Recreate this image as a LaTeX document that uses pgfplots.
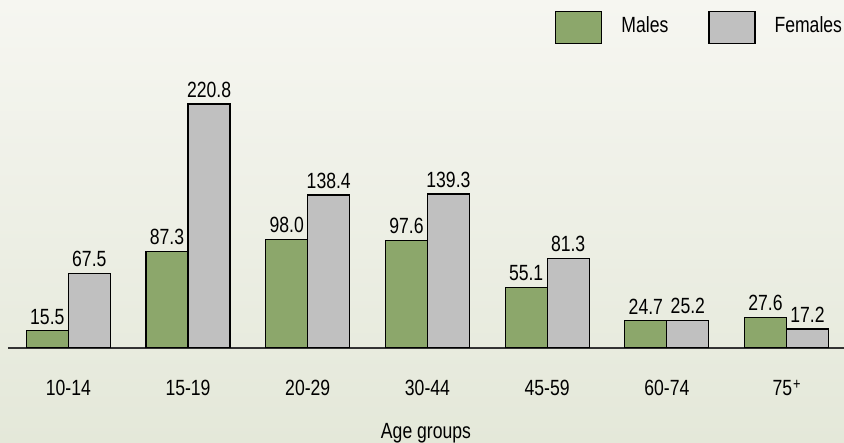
\documentclass[border=0pt]{standalone}
\usepackage{fontspec}
\setmainfont{Liberation Sans}[FakeStretch=0.8]
\usepackage{pgfplots}
\pgfplotsset{compat=1.18}
\definecolor{malegreen}{HTML}{8CA76B}
\definecolor{femgrey}{HTML}{C0C0C0}
\definecolor{bgtop}{HTML}{F6F6F1}
\definecolor{bgbot}{HTML}{E4E8D9}
\begin{document}
\begin{tikzpicture}
\fontsize{22}{26}\selectfont
\shade[top color=bgtop, bottom color=bgbot, use as bounding box] (0,0) rectangle (844pt,443pt);
\begin{axis}[
  at={(8pt,95pt)}, anchor=south west,
  scale only axis, width=836pt, height=265.2pt,
  font=\fontsize{22}{26}\selectfont,
  /pgf/number format/assume math mode=true,
  ybar=0pt, bar width=42pt,
  xmin=-0.504, xmax=6.48, ymin=0, ymax=240,
  axis x line*=bottom, axis y line=none,
  x axis line style={draw=black!80, line width=1.2pt, -},
  xtick={0,...,6}, xtick style={draw=none},
  xticklabels={10-14,15-19,20-29,30-44,45-59,60-74,75\kern1pt\raisebox{6pt}{\fontsize{16}{16}\selectfont +}},
  xticklabel style={yshift=-20pt},
  xlabel={Age groups},
  every axis x label/.style={at={(axis description cs:0.5,0)}, anchor=north, yshift=-68pt},
  nodes near coords={\pgfmathprintnumber[fixed,fixed zerofill,precision=1]{\pgfplotspointmeta}},
  every node near coord/.append style={anchor=south, inner sep=0pt, yshift=6pt, black},
  legend columns=2,
  legend style={at={(axis description cs:0.6543,1.271)}, anchor=north west, draw=none, fill=none, inner sep=0pt,
    /tikz/every odd column/.append style={column sep=17pt},
    /tikz/every even column/.append style={column sep=38pt}},
  legend image code/.code={\draw[#1,draw=black,line width=1.2pt] (0pt,-18pt) rectangle (46pt,14pt);},
]
\addplot[fill=malegreen, draw=black, line width=1.2pt] coordinates {(0,15.5) (1,87.3) (2,98.0) (3,97.6) (4,55.1) (5,24.7) (6,27.6)};
\addplot[fill=femgrey, draw=black, line width=1.2pt] coordinates {(0,67.5) (1,220.8) (2,138.4) (3,139.3) (4,81.3) (5,25.2) (6,17.2)};
\legend{Males,Females}
\end{axis}
\end{tikzpicture}
\end{document}
